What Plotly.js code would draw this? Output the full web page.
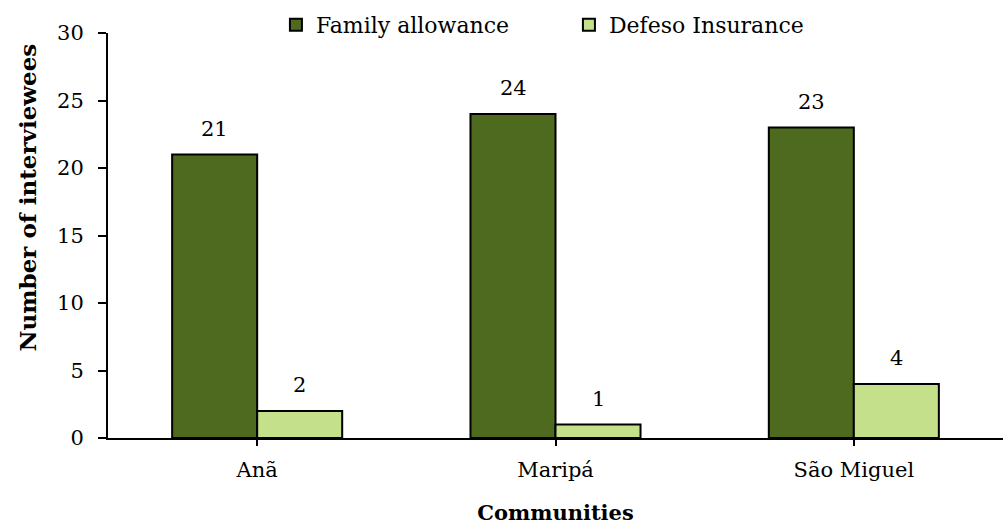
<!DOCTYPE html>
<html>
<head>
<meta charset="utf-8">
<script src="https://cdn.plot.ly/plotly-3.0.1.min.js"></script>
<style>html,body{margin:0;padding:0;background:#fff;}#chart{width:1007px;height:525px;}</style>
</head>
<body>
<div id="chart"></div>
<script>
var communities = ["Anã", "Maripá", "São Miguel"];
var familyAllowance = [21, 24, 23];
var defesoInsurance = [2, 1, 4];
var seriesNames = ["Family allowance", "Defeso Insurance"];
var yTitle = "Number of interviewees";
var xTitle = "Communities";

var FONT = "DejaVu Serif";
var FS = 21;
var traces = [
  {
    type: "bar", name: seriesNames[0], x: communities, y: familyAllowance,
    marker: {color: "#4E6A1E", line: {color: "#000", width: 2}}
  },
  {
    type: "bar", name: seriesNames[1], x: communities, y: defesoInsurance,
    marker: {color: "#C4E08A", line: {color: "#000", width: 2}}
  }
];

// data labels, built from the series arrays
var annotations = [];
[familyAllowance, defesoInsurance].forEach(function (vals, s) {
  vals.forEach(function (v, i) {
    annotations.push({
      x: communities[i], y: v, xref: "x", yref: "y",
      text: String(v), showarrow: false, yanchor: "bottom",
      xshift: s === 0 ? -42.5 : 42.5, yshift: 12,
      font: {family: FONT, size: FS, color: "#000"}
    });
  });
});
annotations.push({
  xref: "paper", yref: "paper", x: -0.09, y: 0.595, xanchor: "center", yanchor: "middle",
  text: "<b>" + yTitle + "</b>", textangle: -90, showarrow: false,
  font: {family: FONT, size: 23, color: "#000"}
});

var layout = {
  width: 1007, height: 525,
  margin: {l: 108, r: 4, t: 33, b: 87},
  paper_bgcolor: "#fff", plot_bgcolor: "#fff",
  font: {family: FONT, size: FS, color: "#000"},
  barmode: "group", bargap: 0.43, bargroupgap: 0,
  showlegend: true,
  legend: {orientation: "h", x: 0.515, xanchor: "center", y: 1.02, yanchor: "middle",
           font: {family: FONT, size: 22}, entrywidth: 248, bgcolor: "rgba(0,0,0,0)"},
  annotations: annotations,
  xaxis: {
    showline: true, linecolor: "#000", linewidth: 2, ticks: "outside", ticklen: 6, tickwidth: 2, tickcolor: "#000",
    showgrid: false, tickfont: {family: FONT, size: FS}, ticklabelstandoff: 6,
    title: {text: "<b>" + xTitle + "</b>", font: {family: FONT, size: 21}, standoff: 25}
  },
  yaxis: {
    range: [0, 30], dtick: 5, showline: true, linecolor: "#000", linewidth: 2, ticks: "outside", ticklen: 8, tickwidth: 2, tickcolor: "#000",
    showgrid: false, zeroline: false, tickfont: {family: FONT, size: FS}, ticklabelstandoff: 10
  }
};
Plotly.newPlot("chart", traces, layout, {displayModeBar: false, staticPlot: true});
</script>
</body>
</html>
